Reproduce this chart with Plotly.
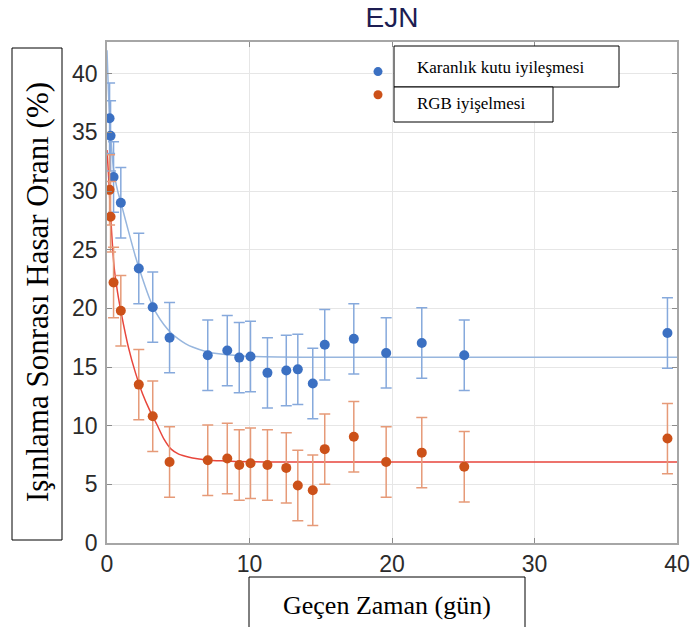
import plotly.graph_objects as go

# ---- data ----
days = [0.18, 0.25, 0.46, 0.97, 2.23, 3.21, 4.39, 7.07, 8.44, 9.28, 10.07,
        11.26, 12.58, 13.39, 14.44, 15.28, 17.32, 19.59, 22.09, 25.07, 39.33]
dark_box = [36.2, 34.7, 31.2, 29.0, 23.4, 20.1, 17.5, 16.0, 16.4, 15.8, 15.9,
            14.5, 14.7, 14.8, 13.6, 16.9, 17.4, 16.2, 17.05, 16.0, 17.9]
dark_box_err = [3.0, 3.0, 3.0, 3.0, 3.0, 3.0, 3.0, 3.0, 3.0, 3.0, 3.0,
                3.0, 3.0, 3.0, 3.0, 3.0, 3.0, 3.0, 3.0, 3.0, 3.0]
rgb = [30.1, 27.8, 22.2, 19.8, 13.5, 10.8, 6.9, 7.05, 7.2, 6.65, 6.8,
       6.65, 6.4, 4.9, 4.5, 8.0, 9.05, 6.9, 7.7, 6.5, 8.9]
rgb_err = [3.0, 3.0, 3.0, 3.0, 3.0, 3.0, 3.0, 3.0, 3.0, 3.0, 3.0,
           3.0, 3.0, 3.0, 3.0, 3.0, 3.0, 3.0, 3.0, 3.0, 3.0]

# fitted curves
fit_x = [0, 0.1, 0.25, 0.5, 0.75, 1.0, 1.5, 2.0, 2.5, 3.0, 3.5, 4.0, 4.5,
         5.0, 5.5, 6.0, 7.0, 8.0, 10, 12, 15, 40]
fit_dark = [42.0, 38.5, 34.8, 31.5, 30.0, 28.9, 26.6, 24.4, 22.5, 20.8, 19.5,
            18.6, 17.9, 17.4, 17.0, 16.7, 16.3, 16.1, 15.9, 15.85, 15.83, 15.83]
fit_rgb = [33.5, 31.5, 28.0, 23.5, 21.3, 19.6, 16.7, 14.5, 12.7, 11.3, 10.1,
           8.85, 8.0, 7.6, 7.4, 7.25, 7.08, 7.0, 6.92, 6.9, 6.9, 6.9]

x_ticks = [0, 10, 20, 30, 40]
y_ticks = [0, 5, 10, 15, 20, 25, 30, 35, 40]

title = "EJN"
x_title = "Geçen Zaman (gün)"
y_title = "Işınlama Sonrası Hasar Oranı (%)"
label_dark = "Karanlık kutu iyileşmesi"
label_rgb = "RGB iyişelmesi"

BLUE = "#3b70c2"
RED = "#cc5119"
BLUE_BAR = "#86a9dc"
RED_BAR = "#e69a78"
BLUE_FIT = "#97b6de"
RED_FIT = "#e8463c"

fig = go.Figure()
fig.add_trace(go.Scatter(x=fit_x, y=fit_dark, mode="lines",
                         line=dict(color=BLUE_FIT, width=1.5, shape="spline", smoothing=0.6),
                         showlegend=False, hoverinfo="skip"))
fig.add_trace(go.Scatter(x=fit_x, y=fit_rgb, mode="lines",
                         line=dict(color=RED_FIT, width=1.5, shape="spline", smoothing=0.6),
                         showlegend=False, hoverinfo="skip"))
fig.add_trace(go.Scatter(x=days, y=dark_box, mode="markers",
                         marker=dict(color=BLUE, size=10),
                         error_y=dict(type="data", array=dark_box_err, color=BLUE_BAR,
                                      thickness=1.5, width=5.5),
                         showlegend=False))
fig.add_trace(go.Scatter(x=days, y=rgb, mode="markers",
                         marker=dict(color=RED, size=10),
                         error_y=dict(type="data", array=rgb_err, color=RED_BAR,
                                      thickness=1.5, width=5.5),
                         showlegend=False))
# legend entries (their text is given in the boxes)
fig.add_trace(go.Scatter(x=[None], y=[None], mode="markers", name=" ",
                         marker=dict(color=BLUE, size=9)))
fig.add_trace(go.Scatter(x=[None], y=[None], mode="markers", name=" ",
                         marker=dict(color=RED, size=9)))

FW, FH = 692, 627
L, T, W, H = 107, 42, 570, 501       # plot area in screen pixels


def px(xp):
    return (xp - L) / W


def py(yp):
    return (T + H - yp) / H


axis_common = dict(showgrid=True, gridcolor="#e6e6e6", gridwidth=1,
                   showline=True, linecolor="#a6a6a6", linewidth=1.5, mirror="ticks",
                   ticks="inside", ticklen=5, tickcolor="#8c8c8c",
                   zeroline=False, ticklabeloverflow="allow", automargin=False,
                   tickfont=dict(family="Liberation Sans", size=23, color="#2b2b2b"))

fig.update_layout(
    width=FW, height=FH,
    margin=dict(l=L, r=FW - L - W, t=T, b=FH - T - H, autoexpand=False),
    paper_bgcolor="white", plot_bgcolor="white",
    title=dict(text=title, x=(L + W / 2) / FW, xanchor="center",
               y=1 - 17 / FH, yanchor="middle",
               font=dict(family="Liberation Sans", size=28, color="#1d1d52")),
    xaxis=dict(range=[0, 40], tickvals=x_ticks, **axis_common),
    yaxis=dict(range=[0, 42.7], tickvals=y_ticks, ticklabelstandoff=3, **axis_common),
    legend=dict(x=px(358), y=py(55), xanchor="left", yanchor="top",
                bgcolor="rgba(0,0,0,0)", borderwidth=0,
                font=dict(family="Liberation Serif", size=15.5), tracegroupgap=0),
    showlegend=True,
)

shapes = []
box_line = dict(color="black", width=1)
shapes.append(dict(type="rect", x0=px(394), x1=px(619), y0=py(46), y1=py(87)))
shapes.append(dict(type="rect", x0=px(394), x1=px(553), y0=py(87), y1=py(122)))
shapes.append(dict(type="rect", x0=px(12), x1=px(62), y0=py(48), y1=py(540)))
shapes.append(dict(type="rect", x0=px(249), x1=px(525), y0=py(577), y1=py(660)))
for s in shapes:
    s.update(xref="paper", yref="paper", line=box_line, fillcolor="white", layer="above")
fig.update_layout(shapes=shapes)

serif = "Liberation Serif"
ann = [
    dict(text=label_dark, x=px(415), y=py(67), xanchor="left", yanchor="middle",
         font=dict(family=serif, size=17, color="black")),
    dict(text=label_rgb, x=px(415), y=py(103), xanchor="left", yanchor="middle",
         font=dict(family=serif, size=17, color="black")),
    dict(text=y_title, x=px(37), y=py(292), xanchor="center", yanchor="middle",
         textangle=-90, font=dict(family=serif, size=31, color="black")),
    dict(text=x_title, x=px(387), y=py(605), xanchor="center", yanchor="middle",
         font=dict(family=serif, size=26, color="black")),
]
for a in ann:
    a.update(xref="paper", yref="paper", showarrow=False)
fig.update_layout(annotations=ann)

# remove the browser's default page margin so the figure fills the window
fig.write_html("out.html", config={"displayModeBar": False},
               post_script="document.body.style.margin='0';document.body.style.overflow='hidden';")
